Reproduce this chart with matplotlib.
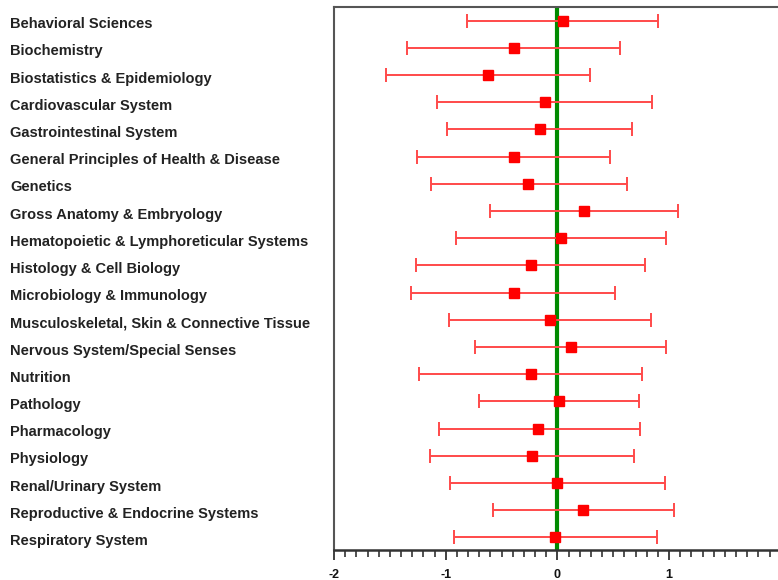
import matplotlib
matplotlib.use("Agg")
import matplotlib.pyplot as plt
import matplotlib.transforms as mtransforms
from matplotlib.ticker import MultipleLocator

plt.rcParams["axes.unicode_minus"] = False

subjects = [
    "Behavioral Sciences",
    "Biochemistry",
    "Biostatistics & Epidemiology",
    "Cardiovascular System",
    "Gastrointestinal System",
    "General Principles of Health & Disease",
    "Genetics",
    "Gross Anatomy & Embryology",
    "Hematopoietic & Lymphoreticular Systems",
    "Histology & Cell Biology",
    "Microbiology & Immunology",
    "Musculoskeletal, Skin & Connective Tissue",
    "Nervous System/Special Senses",
    "Nutrition",
    "Pathology",
    "Pharmacology",
    "Physiology",
    "Renal/Urinary System",
    "Reproductive & Endocrine Systems",
    "Respiratory System",
]
estimate = [0.05, -0.39, -0.62, -0.11, -0.16, -0.39, -0.26, 0.24, 0.03, -0.24,
            -0.39, -0.07, 0.12, -0.24, 0.01, -0.17, -0.23, 0.00, 0.23, -0.02]
lower = [-0.81, -1.35, -1.53, -1.08, -0.99, -1.26, -1.13, -0.60, -0.91, -1.27,
         -1.31, -0.97, -0.74, -1.24, -0.70, -1.06, -1.14, -0.96, -0.58, -0.93]
upper = [0.90, 0.56, 0.29, 0.85, 0.67, 0.47, 0.62, 1.08, 0.97, 0.78,
         0.52, 0.84, 0.97, 0.76, 0.73, 0.74, 0.69, 0.96, 1.04, 0.89]

fig = plt.figure(figsize=(7.78, 5.8), dpi=100)
ax = fig.add_axes([334 / 778, 30 / 580, 446.8 / 778, 543.3 / 580])

rows = list(range(len(subjects)))
err_lo = [e - l for e, l in zip(estimate, lower)]
err_hi = [u - e for e, u in zip(estimate, upper)]

ax.axvline(0, color="#008a00", lw=3, zorder=1)
ax.errorbar(estimate, rows, xerr=[err_lo, err_hi], fmt="s", color="#ff0000",
            ecolor="#ff4a4a", elinewidth=1.4, capsize=5, capthick=1.4,
            markersize=7.5, zorder=3)

ax.set_xlim(-2, 2)
ax.set_ylim(19.46, -0.51)
ax.set_yticks([])
ax.xaxis.set_major_locator(MultipleLocator(1))
ax.xaxis.set_minor_locator(MultipleLocator(0.1))
ax.tick_params(axis="x", which="major", length=7, width=1.3, direction="out",
               labelsize=9, pad=7, colors="#333333", labelcolor="#111111")
ax.tick_params(axis="x", which="minor", length=5, width=1.2, direction="out",
               colors="#333333")
for lab in ax.get_xticklabels():
    lab.set_fontweight("bold")
    lab.set_family("Liberation Sans")

ax.spines["right"].set_visible(False)
ax.spines["left"].set_color("#555555")
ax.spines["left"].set_linewidth(1.5)
ax.spines["top"].set_color("#555555")
ax.spines["top"].set_linewidth(1.5)
ax.spines["bottom"].set_color("#333333")
ax.spines["bottom"].set_linewidth(1.8)

trans = mtransforms.blended_transform_factory(fig.transFigure, ax.transData)
for i, name in enumerate(subjects):
    ax.text(10 / 778, i + 0.28, name, transform=trans, ha="left", va="baseline",
            fontsize=10.5, fontweight="bold", family="Liberation Sans",
            color="#222222", clip_on=False)

fig.savefig("out.png", dpi=100)
